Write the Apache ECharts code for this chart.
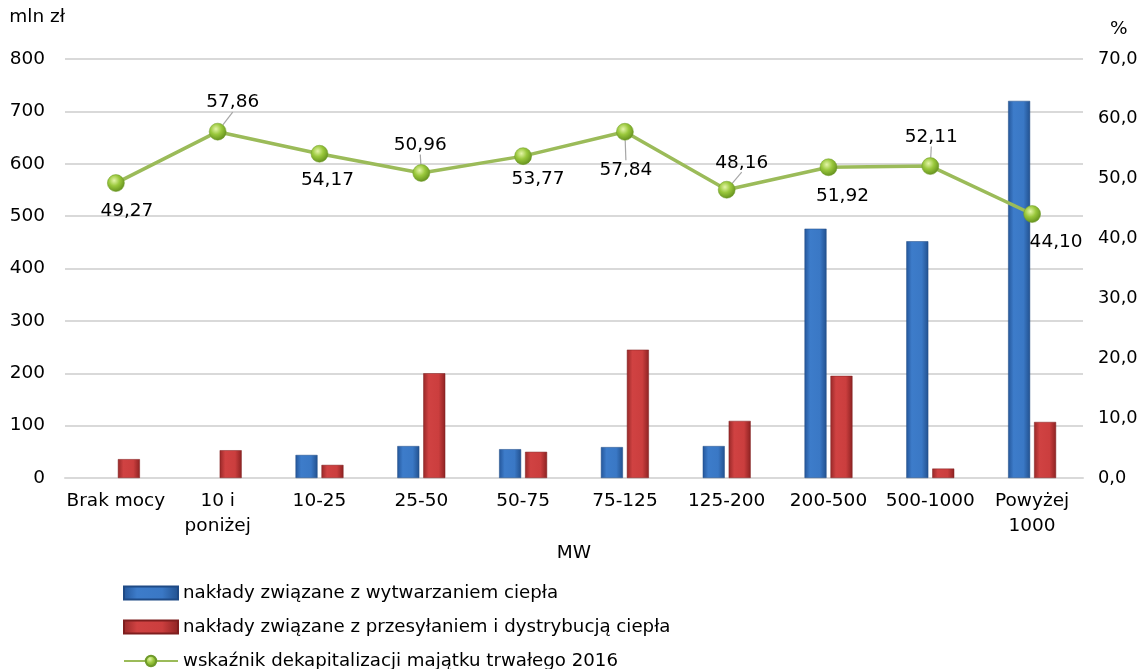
<!DOCTYPE html>
<html><head><meta charset="utf-8">
<script src="https://cdn.jsdelivr.net/npm/echarts@6/dist/echarts.min.js"></script>
<style>html,body{margin:0;padding:0;background:#fff}#c{width:1148px;height:669px}</style>
</head><body><div id="c"></div>
<script>
const categories = ['Brak mocy', '10 i\nponiżej', '10-25', '25-50', '50-75', '75-125', '125-200', '200-500', '500-1000', 'Powyżej\n1000'];
const wytwarzanie = [null, null, 44, 61, 55, 59, 61, 476, 452, 720];
const przesylanie = [36, 53, 25, 200, 50, 245, 109, 195, 18, 107];
const wskaznik = [49.27, 57.86, 54.17, 50.96, 53.77, 57.84, 48.16, 51.92, 52.11, 44.10];
const leftTicks = [0, 800, 100];
const rightTicks = [0, 70, 10];

// label placement (style only)
const labelOffsets = [[11,28],[15,-29],[8,26],[-1,-28],[15,23],[1,38],[15,-27],[14,29],[1,-29],[24,28]];
const leaderShow = [false,true,false,true,false,true,true,false,true,false];
const FONT = 'DejaVu Sans';
const FS = 18.5;
const chart = echarts.init(document.getElementById('c'));
function fmt(v){return v.toFixed(2).replace('.',',');}
const lineData = wskaznik.map((v,i)=>({value:v, labelLine:{show:leaderShow[i]}}));
chart.setOption({
  animation:false,
  textStyle:{fontFamily:FONT, fontSize:FS, color:'#000'},
  grid:{left:65, right:65, top:59, bottom:191},
  legend:{
    orient:'vertical', left:118, top:578, height:200, itemGap:14, itemWidth:54, itemHeight:13,
    textStyle:{fontFamily:FONT, fontSize:18.2, color:'#000', lineHeight:20},
    data:[
      {name:'nakłady związane z wytwarzaniem ciepła', icon:'rect'},
      {name:'nakłady związane z przesyłaniem i dystrybucją ciepła', icon:'rect'},
      {name:'wskaźnik dekapitalizacji majątku trwałego 2016'}
    ]
  },
  xAxis:{
    type:'category', data:categories,
    name:'MW', nameLocation:'middle', nameGap:64,
    nameTextStyle:{fontFamily:FONT, fontSize:FS, color:'#000'},
    axisLine:{show:true, lineStyle:{color:'#d9d9d9', width:2}},
    axisTick:{show:false},
    axisLabel:{interval:0, margin:11, color:'#000', fontFamily:FONT, fontSize:FS, lineHeight:25}
  },
  yAxis:[
    {type:'value', min:leftTicks[0], max:leftTicks[1], interval:leftTicks[2],
     name:'mln zł', nameLocation:'end', nameGap:32,
     nameTextStyle:{fontFamily:FONT, fontSize:FS, color:'#000', align:'right'},
     axisLine:{show:false}, axisTick:{show:false},
     axisLabel:{margin:20, color:'#000', fontFamily:FONT, fontSize:FS},
     splitLine:{lineStyle:{color:'#d9d9d9', width:2}}},
    {type:'value', min:rightTicks[0], max:rightTicks[1], interval:rightTicks[2],
     name:'%', nameLocation:'end', nameGap:20,
     nameTextStyle:{fontFamily:FONT, fontSize:FS, color:'#000', align:'left', padding:[0,0,0,27]},
     axisLine:{show:false}, axisTick:{show:false},
     axisLabel:{margin:15, color:'#000', fontFamily:FONT, fontSize:17.8, formatter:v=>v.toFixed(1).replace('.',',')},
     splitLine:{show:false}}
  ],
  series:[
    {name:'nakłady związane z wytwarzaniem ciepła', type:'bar', data:wytwarzanie,
     barWidth:22, barGap:'18%',
     itemStyle:{color:new echarts.graphic.LinearGradient(0,0,1,0,[
       {offset:0,color:'#24569a'},{offset:0.25,color:'#3d7cca'},{offset:0.7,color:'#3a78c5'},{offset:1,color:'#22518f'}]),
       borderColor:'#1f4a85', borderWidth:0.5}},
    {name:'nakłady związane z przesyłaniem i dystrybucją ciepła', type:'bar', data:przesylanie,
     barWidth:22,
     itemStyle:{color:new echarts.graphic.LinearGradient(0,0,1,0,[
       {offset:0,color:'#972828'},{offset:0.25,color:'#d04242'},{offset:0.7,color:'#cb3e3e'},{offset:1,color:'#8d2222'}]),
       borderColor:'#7e1e1e', borderWidth:0.5}},
    {name:'wskaźnik dekapitalizacji majątku trwałego 2016', type:'line', yAxisIndex:1, data:lineData,
     symbol:'circle', symbolSize:17, z:5,
     lineStyle:{color:'#9bbb59', width:3.5},
     itemStyle:{color:new echarts.graphic.RadialGradient(0.4,0.35,0.7,[
       {offset:0,color:'#e4f5a8'},{offset:0.45,color:'#9ac83c'},{offset:1,color:'#5e8a1a'}]),
       borderColor:'#6f9a2a', borderWidth:0.5},
     label:{show:true, position:'inside', formatter:p=>fmt(p.value), fontFamily:FONT, fontSize:FS, color:'#000'},
     labelLine:{show:false, lineStyle:{color:'#a6a6a6', width:1.2}, length2:0},
     labelLayout:function(p){const o=labelOffsets[p.dataIndex];return {dx:o[0], dy:o[1]};}
    }
  ]
});
</script></body></html>
